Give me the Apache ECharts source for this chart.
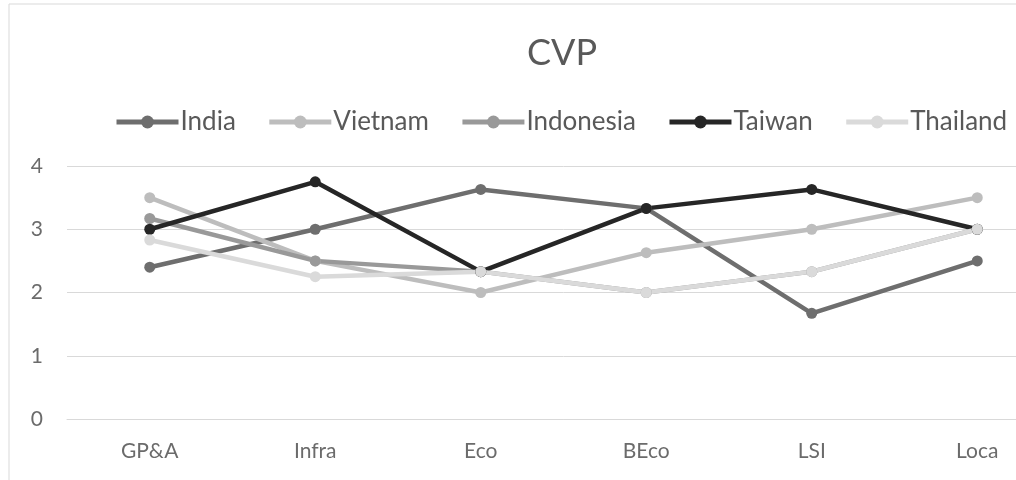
<!DOCTYPE html>
<html>
<head>
<meta charset="utf-8">
<script src="https://cdn.jsdelivr.net/npm/echarts@6/dist/echarts.min.js"></script>
<style>
  html, body { margin: 0; padding: 0; background: #fff; overflow: hidden; }
  /* the reference is cropped on the right, so the chart is wider than the window */
  #chart { width: 1100px; height: 480px; }
</style>
</head>
<body>
<div id="chart"></div>
<script>
const categories = ["GP&A", "Infra", "Eco", "BEco", "LSI", "Loca"];
const india = [2.4, 3.0, 3.63, 3.33, 1.67, 2.5];
const vietnam = [3.5, 2.5, 2.0, 2.63, 3.0, 3.5];
const indonesia = [3.17, 2.5, 2.33, 2.0, 2.33, 3.0];
const taiwan = [3.0, 3.75, 2.33, 3.33, 3.63, 3.0];
const thailand = [2.83, 2.25, 2.33, 2.0, 2.33, 3.0];
const yTicks = [0, 1, 2, 3, 4];

const font = "Lato, 'Open Sans', sans-serif";

function line(name, data, color) {
  return {
    name: name,
    type: "line",
    data: data,
    symbol: "circle",
    symbolSize: 11,
    lineStyle: { width: 4.5, color: color },
    itemStyle: { color: color },
    emphasis: { disabled: true }
  };
}

const chart = echarts.init(document.getElementById("chart"));
chart.setOption({
  animation: false,
  backgroundColor: "#fff",
  graphic: [{
    type: "rect",
    shape: { x: 9, y: 4, width: 1150, height: 520 },
    style: { fill: "none", stroke: "#d9d9d9", lineWidth: 1 },
    silent: true
  }],
  title: {
    text: "CVP",
    left: 522,
    top: 30,
    textStyle: { fontFamily: font, fontSize: 36, fontWeight: "normal", color: "#595959" }
  },
  legend: {
    left: 109,
    top: 104,
    itemWidth: 62,
    itemHeight: 16,
    itemGap: 31,
    lineStyle: { width: 5 },
    textStyle: { fontFamily: font, fontSize: 26, color: "#595959", padding: [0, 0, 0, -3] },
    data: ["India", "Vietnam", "Indonesia", "Taiwan", "Thailand"]
  },
  grid: { left: 67, top: 166, width: 993, bottom: 61, containLabel: false },
  xAxis: {
    type: "category",
    data: categories,
    axisLine: { lineStyle: { color: "#d9d9d9", width: 1 } },
    axisTick: { show: false },
    axisLabel: { fontFamily: font, fontSize: 21, color: "#6b6b6b", margin: 22 }
  },
  yAxis: {
    type: "value",
    min: yTicks[0],
    max: yTicks[yTicks.length - 1],
    interval: 1,
    axisLine: { show: false },
    axisTick: { show: false },
    splitLine: { lineStyle: { color: "#d9d9d9", width: 1 } },
    axisLabel: { fontFamily: font, fontSize: 21, color: "#6b6b6b", margin: 24 }
  },
  series: [
    line("India", india, "#6e6e6e"),
    line("Vietnam", vietnam, "#bdbdbd"),
    line("Indonesia", indonesia, "#999999"),
    line("Taiwan", taiwan, "#262626"),
    line("Thailand", thailand, "#dadada")
  ]
});
</script>
</body>
</html>
